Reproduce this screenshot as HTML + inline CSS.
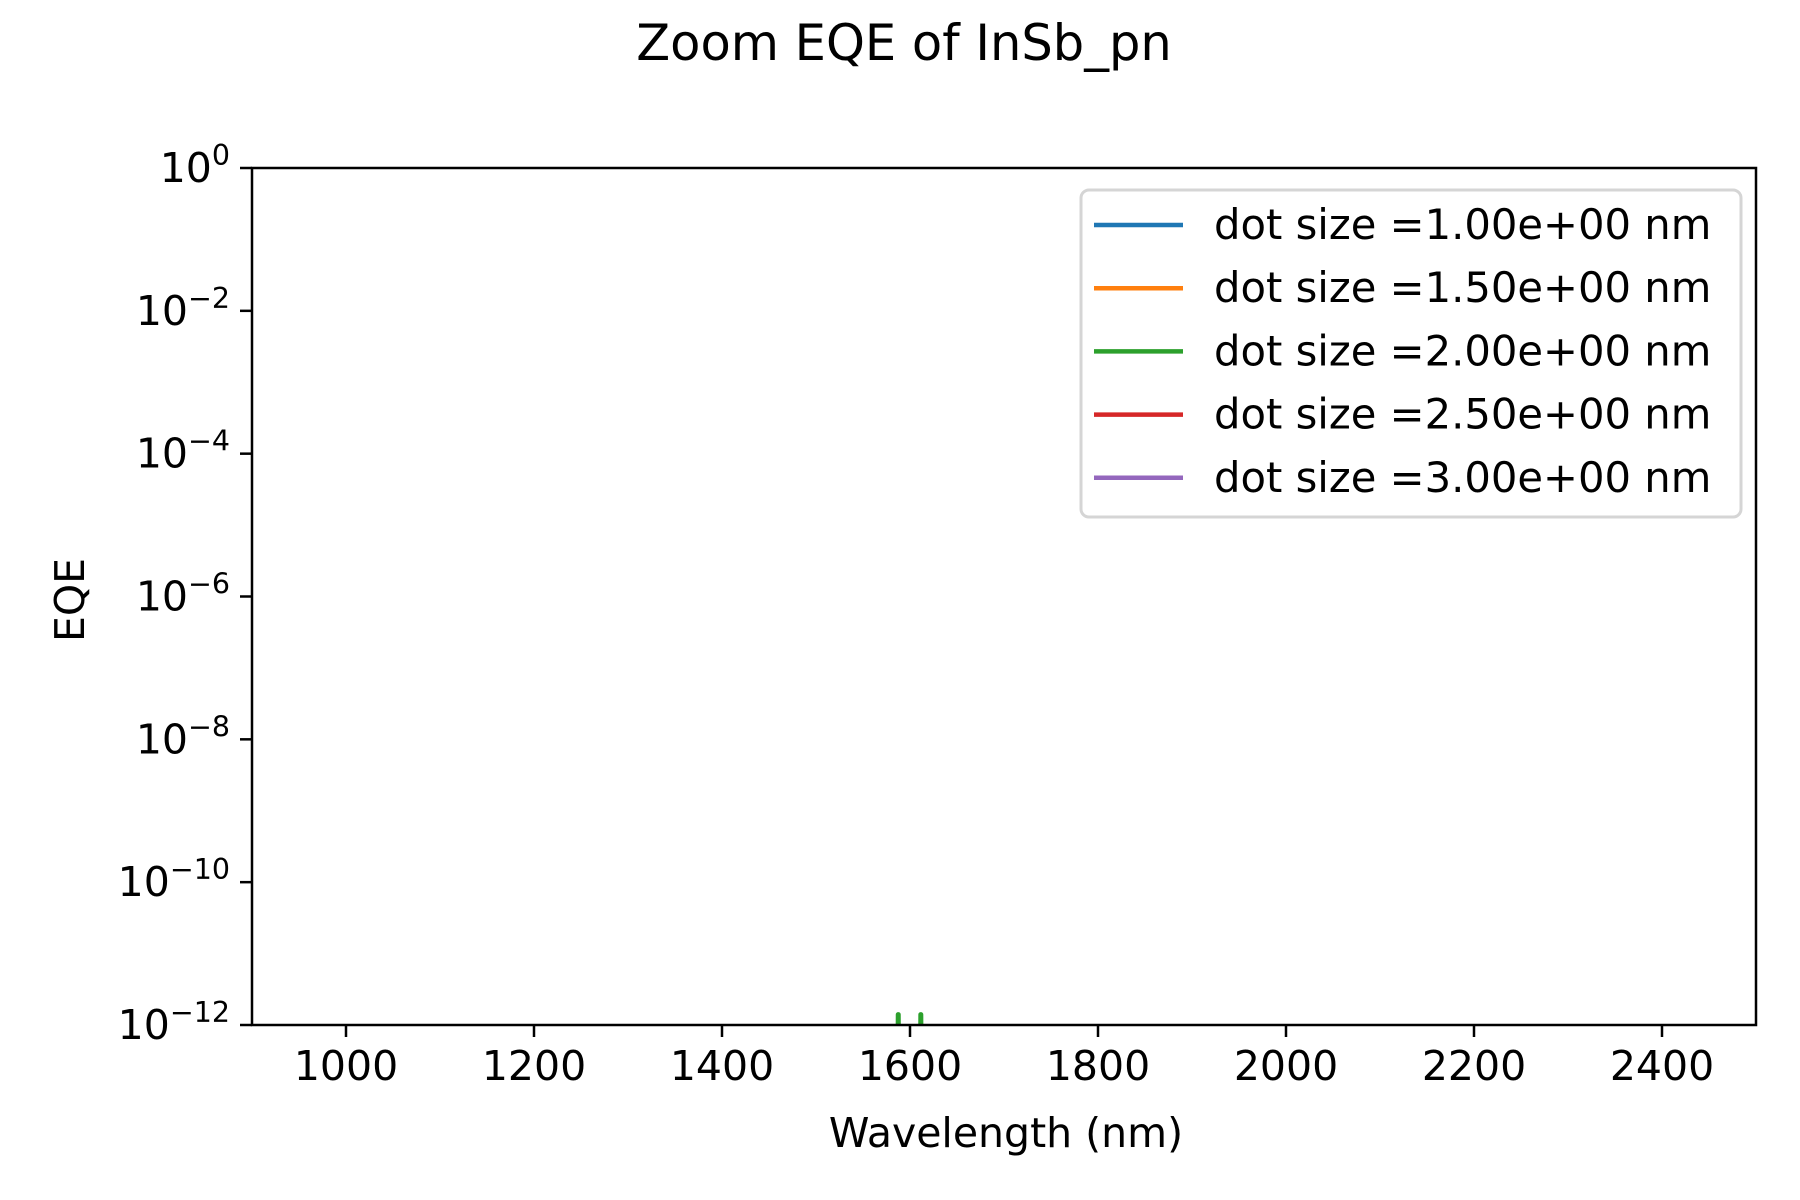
<!DOCTYPE html>
<html><head><meta charset="utf-8"><style>
html,body{margin:0;padding:0;background:#fff}
svg{display:block;font-family:"DejaVu Sans","Liberation Sans",sans-serif}
</style></head><body>
<svg id="chart" width="1800" height="1200" viewBox="0 0 1800 1200">
<rect width="1800" height="1200" fill="#fff"/>
<text x="904" y="60" font-size="49.5" text-anchor="middle">Zoom EQE of InSb_pn</text>
<g id="plot"></g>
<g id="xticks"></g>
<g id="yticks"></g>
<rect x="252" y="168" width="1504" height="857" fill="none" stroke="#000" stroke-width="2.5"/>
<text x="1006" y="1147" font-size="41" text-anchor="middle">Wavelength (nm)</text>
<text x="0" y="0" font-size="41" text-anchor="middle" transform="translate(84,600) rotate(-90)">EQE</text>
<g id="legend"></g>
</svg>
<script>
const xTicks = [1000,1200,1400,1600,1800,2000,2200,2400];
const yTickExps = [0,-2,-4,-6,-8,-10,-12];
const seriesLabels = ["dot size =1.00e+00 nm","dot size =1.50e+00 nm","dot size =2.00e+00 nm","dot size =2.50e+00 nm","dot size =3.00e+00 nm"];
const seriesColors = ["#1f77b4","#ff7f0e","#2ca02c","#d62728","#9467bd"];
const greenWavelengths = [1587,1587.5,1588,1611,1611.5,1612];
const greenEQE = [1e-13,1.4e-12,1e-13,1e-13,1.4e-12,1e-13];

const L=252,R=1756,T=168,B=1025;
const xMin=900,xMax=2500,yMinExp=-12,yMaxExp=0;
function xs(v){return L+(v-xMin)/(xMax-xMin)*(R-L);}
function ys(v){const e=Math.log10(v);return B-(e-yMinExp)/(yMaxExp-yMinExp)*(B-T);}
const NS="http://www.w3.org/2000/svg";
function mk(tag,attrs,parent){const el=document.createElementNS(NS,tag);for(const k in attrs)el.setAttribute(k,attrs[k]);parent.appendChild(el);return el;}

const xg=document.getElementById('xticks');
xTicks.forEach(v=>{
  const x=xs(v);
  const t=mk('line',{x1:x,x2:x,y1:B,y2:B+12,stroke:'#000','stroke-width':2.5},xg);
  
  
  const tx=mk('text',{x:x,y:B+55,'font-size':41,'text-anchor':'middle'},xg);
  tx.textContent=v;
  
  
});
const yg=document.getElementById('yticks');
yTickExps.forEach(e=>{
  const y=ys(Math.pow(10,e));
  const t=mk('line',{x1:L-12,x2:L,y1:y,y2:y,stroke:'#000','stroke-width':2.5},yg);
  
  
  const tx=mk('text',{x:L-22,y:y+14,'font-size':41,'text-anchor':'end'},yg);
  
  
  const base=document.createElementNS(NS,'tspan');base.textContent='10';tx.appendChild(base);
  const sup=document.createElementNS(NS,'tspan');
  sup.setAttribute('dy','-17');sup.setAttribute('font-size','28.5');
  sup.textContent=(e<0?'\u2212':'')+Math.abs(e);
  tx.appendChild(sup);
});

const pg=document.getElementById('plot');
const clip=mk('clipPath',{id:'clipA'},pg);
mk('rect',{x:L,y:T,width:R-L,height:B-T},clip);
for(let s=0;s<2;s++){
  const seg=[greenWavelengths.slice(s*3,s*3+3),greenEQE.slice(s*3,s*3+3)];
  const d=seg[0].map((w,i)=>(i?'L':'M')+xs(w)+','+ys(seg[1][i])).join(' ');
  const p=mk('path',{d:d,fill:'none',stroke:seriesColors[2],'stroke-width':5,'stroke-linecap':'round','stroke-linejoin':'round','clip-path':'url(#clipA)'},pg);
  
  
}

const lg=document.getElementById('legend');
const box=mk('rect',{x:1081,y:190,width:660,height:327,rx:8,fill:'#fff','fill-opacity':0.8,stroke:'#d5d5d5','stroke-width':3},lg);


seriesLabels.forEach((lab,i)=>{
  const y=225+i*63.2;
  const ln=mk('line',{x1:1094,x2:1183,y1:y,y2:y,stroke:seriesColors[i],'stroke-width':4.5},lg);
  
  
  const tx=mk('text',{x:1214,y:y+14,'font-size':41.7},lg);
  tx.textContent=lab;
  
  
});
</script>
</body></html>
